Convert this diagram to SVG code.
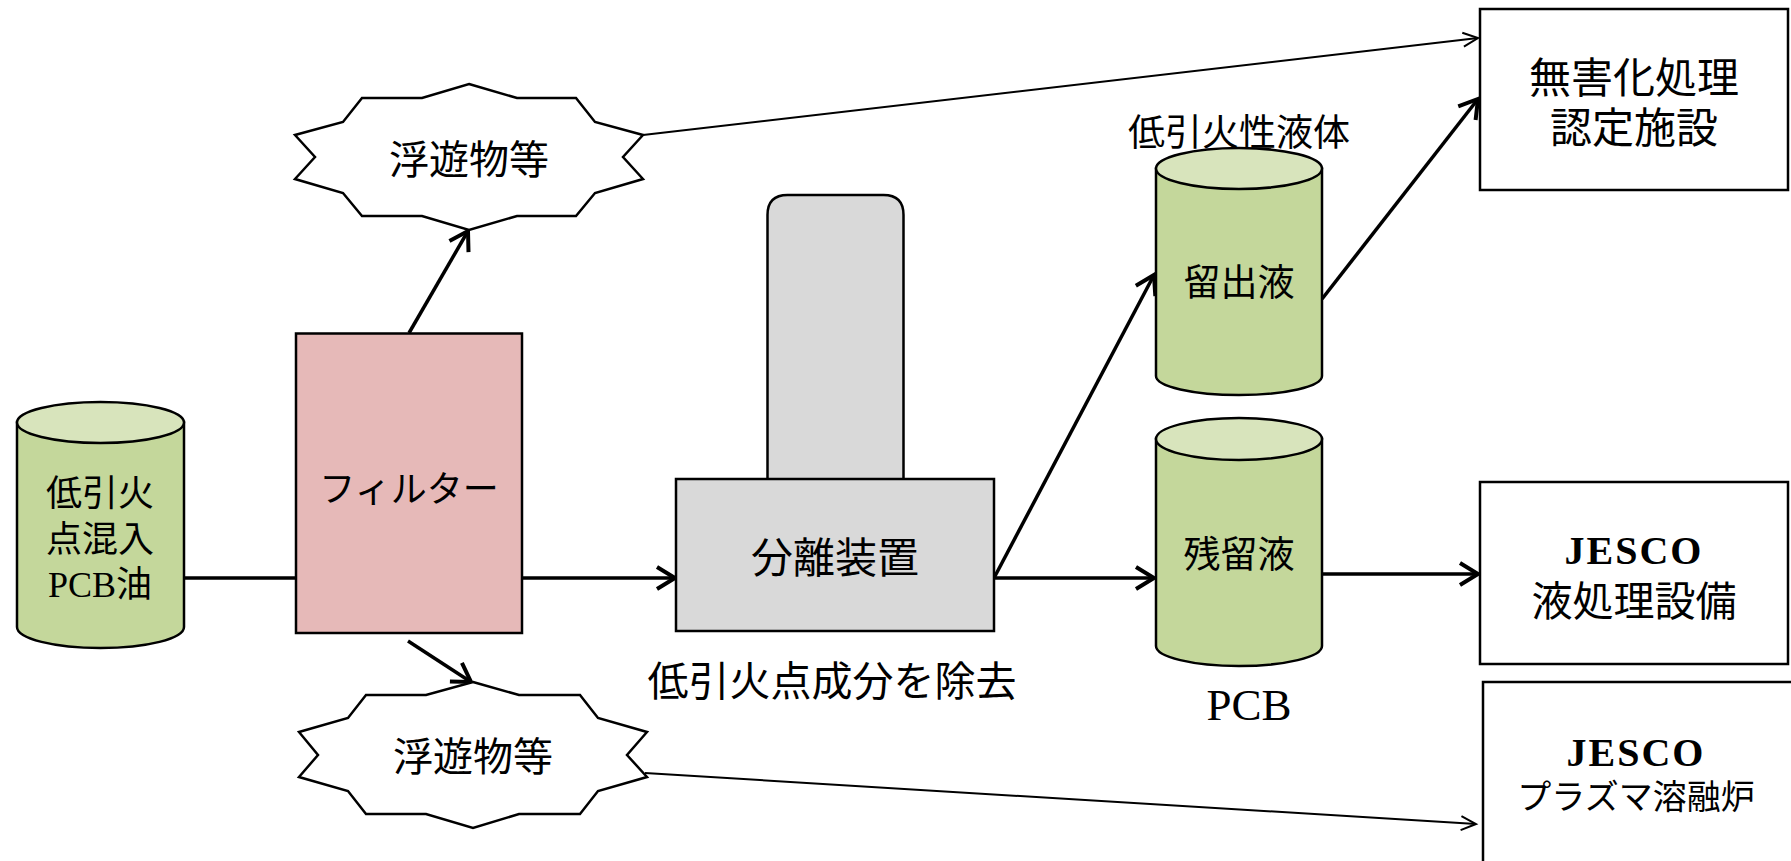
<svg xmlns="http://www.w3.org/2000/svg" width="1791" height="861" viewBox="0 0 1791 861">
  <defs>
    <style>
      text { font-family: "Liberation Serif", "Noto Sans CJK JP", serif; fill: #000; text-anchor: middle; }
      .outline { stroke: #000; stroke-width: 2.5; }
      .tank-body { fill: #c4d79b; stroke: #000; stroke-width: 2.5; }
      .tank-top { fill: #d8e4bc; stroke: #000; stroke-width: 2.5; }
      .box { fill: #fff; stroke: #000; stroke-width: 2.5; }
      .flow { fill: none; stroke: #000; stroke-width: 3.5; }
      .flow-thin { fill: none; stroke: #000; stroke-width: 2; }
      .latin-bold { font-weight: bold; letter-spacing: 2px; }
    </style>
    <marker id="head" markerUnits="userSpaceOnUse" markerWidth="26" markerHeight="28" refX="21" refY="13" orient="auto">
      <path d="M3,2 L21,13 L3,24" fill="none" stroke="#000" stroke-width="4"/>
    </marker>
    <marker id="head-thin" markerUnits="userSpaceOnUse" markerWidth="22" markerHeight="20" refX="17" refY="9" orient="auto">
      <path d="M2,2 L17,9 L2,16" fill="none" stroke="#000" stroke-width="2"/>
    </marker>
  </defs>

  <!-- connectors -->
  <g id="connectors">
    <line class="flow" x1="184" y1="578" x2="296" y2="578"/>
    <line class="flow" x1="522" y1="578" x2="675" y2="578" marker-end="url(#head)"/>
    <line class="flow" x1="409" y1="333" x2="468" y2="231" marker-end="url(#head)"/>
    <line class="flow" x1="408" y1="641" x2="471" y2="682" marker-end="url(#head)"/>
    <line class="flow" x1="994" y1="578" x2="1154" y2="275" marker-end="url(#head)"/>
    <line class="flow" x1="994" y1="578" x2="1154" y2="578" marker-end="url(#head)"/>
    <line class="flow" x1="1322" y1="299" x2="1478" y2="99" marker-end="url(#head)"/>
    <line class="flow" x1="1322" y1="574" x2="1478" y2="574" marker-end="url(#head)"/>
    <line class="flow-thin" x1="643" y1="135" x2="1478" y2="38" marker-end="url(#head-thin)"/>
    <line class="flow-thin" x1="645" y1="773" x2="1476" y2="824" marker-end="url(#head-thin)"/>
  </g>

  <!-- feed tank -->
  <g id="feed-tank">
    <path class="tank-body" d="M17,422 L17,627 A83.5,21 0 0 0 184,627 L184,422 Z"/>
    <ellipse class="tank-top" cx="100.5" cy="422.5" rx="83.5" ry="20.5"/>
    <text x="100" y="506" font-size="36">低引火</text>
    <text x="100" y="552" font-size="36">点混入</text>
    <text x="100" y="597" font-size="36">PCB油</text>
  </g>

  <!-- filter -->
  <g id="filter">
    <rect class="outline" x="296" y="333.5" width="226" height="299.5" fill="#e6b9b8"/>
    <text x="409" y="502" font-size="36">フィルター</text>
  </g>

  <!-- floating matter, upper -->
  <g id="floating-upper">
    <polygon class="box" points="469,84 517,98 576,98 595,122 643,135 623,157 643,179 595,193 576,216 517,216 469,230 422,216 362,216 343,193 295,179 315,157 295,135 343,122 362,98 422,98"/>
    <text x="469" y="174" font-size="40">浮遊物等</text>
  </g>

  <!-- floating matter, lower -->
  <g id="floating-lower">
    <polygon class="box" points="473,682 519,695 580,695 598,718 647,732 627,755 647,777 598,791 580,814 519,814 473,828 426,814 366,814 348,791 299,777 318,755 299,732 348,718 366,695 426,695"/>
    <text x="473" y="771" font-size="40">浮遊物等</text>
  </g>

  <!-- separation unit -->
  <g id="separator">
    <path class="outline" d="M767.5,479 L767.5,215 Q767.5,195 787.5,195 L883.5,195 Q903.5,195 903.5,215 L903.5,479" fill="#d9d9d9"/>
    <rect class="outline" x="676" y="479" width="318" height="152" fill="#d9d9d9"/>
    <text x="835" y="573" font-size="42">分離装置</text>
    <text x="832" y="696" font-size="41">低引火点成分を除去</text>
  </g>

  <!-- distillate tank -->
  <g id="distillate-tank">
    <text x="1239" y="146" font-size="37">低引火性液体</text>
    <path class="tank-body" d="M1156,168.5 L1156,376 A83,19 0 0 0 1322,376 L1322,168.5 Z"/>
    <ellipse class="tank-top" cx="1239" cy="168.5" rx="83" ry="20.5"/>
    <text x="1239" y="296" font-size="37">留出液</text>
  </g>

  <!-- residue tank -->
  <g id="residue-tank">
    <path class="tank-body" d="M1156,439 L1156,646 A83,20 0 0 0 1322,646 L1322,439 Z"/>
    <ellipse class="tank-top" cx="1239" cy="439" rx="83" ry="21"/>
    <text x="1239" y="568" font-size="37">残留液</text>
    <text x="1249" y="720" font-size="45">PCB</text>
  </g>

  <!-- certified detoxification facility -->
  <g id="detox-facility">
    <rect class="box" x="1480" y="9" width="308" height="181"/>
    <text x="1634" y="93" font-size="42">無害化処理</text>
    <text x="1634" y="143" font-size="42">認定施設</text>
  </g>

  <!-- JESCO liquid treatment -->
  <g id="jesco-liquid">
    <rect class="box" x="1480" y="482" width="308" height="182"/>
    <text class="latin-bold" x="1634" y="564" font-size="40">JESCO</text>
    <text x="1634" y="616" font-size="41">液処理設備</text>
  </g>

  <!-- JESCO plasma melting furnace -->
  <g id="jesco-plasma">
    <rect class="box" x="1483" y="682" width="320" height="200"/>
    <text class="latin-bold" x="1636" y="766" font-size="40">JESCO</text>
    <text x="1636" y="809" font-size="34">プラズマ溶融炉</text>
  </g>
</svg>
